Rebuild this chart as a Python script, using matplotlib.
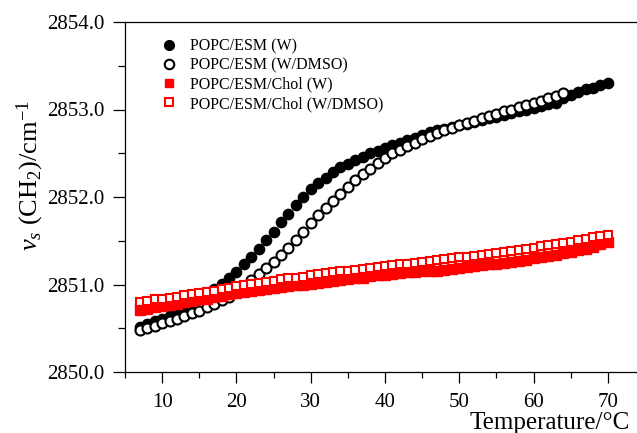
import matplotlib
matplotlib.use("Agg")
import matplotlib.pyplot as plt
from matplotlib.ticker import MultipleLocator, FormatStrFormatter

plt.rcParams["font.family"] = ["Liberation Serif", "DejaVu Serif"]
plt.rcParams["mathtext.fontset"] = "custom"
plt.rcParams["mathtext.rm"] = "Liberation Serif"
plt.rcParams["mathtext.it"] = "Liberation Serif:italic"

# Temperature grids (°C)
temp_full = list(range(7, 71))
temp_dmso = list(range(7, 65))

# POPC/ESM in water
esm_w = [2850.52, 2850.55, 2850.58, 2850.61, 2850.64, 2850.67, 2850.72, 2850.77,
         2850.83, 2850.89, 2850.95, 2851.01, 2851.07, 2851.14, 2851.23, 2851.32,
         2851.41, 2851.51, 2851.60, 2851.71, 2851.81, 2851.91, 2852.00, 2852.09,
         2852.16, 2852.22, 2852.29, 2852.34, 2852.38, 2852.42, 2852.46, 2852.50,
         2852.53, 2852.56, 2852.59, 2852.62, 2852.65, 2852.68, 2852.71, 2852.74,
         2852.76, 2852.78, 2852.80, 2852.82, 2852.84, 2852.86, 2852.88, 2852.90,
         2852.92, 2852.94, 2852.96, 2852.98, 2853.00, 2853.02, 2853.04, 2853.06,
         2853.08, 2853.13, 2853.17, 2853.20, 2853.23, 2853.25, 2853.28, 2853.30]

# POPC/ESM in water/DMSO
esm_dmso = [2850.48, 2850.50, 2850.53, 2850.56, 2850.58, 2850.61, 2850.64, 2850.67,
            2850.70, 2850.74, 2850.78, 2850.82, 2850.86, 2850.92, 2850.98, 2851.05,
            2851.12, 2851.19, 2851.26, 2851.34, 2851.42, 2851.51, 2851.60, 2851.70,
            2851.79, 2851.88, 2851.96, 2852.04, 2852.12, 2852.19, 2852.26, 2852.32,
            2852.39, 2852.45, 2852.50, 2852.54, 2852.58, 2852.62, 2852.66, 2852.70,
            2852.73, 2852.76, 2852.79, 2852.82, 2852.85, 2852.87, 2852.90, 2852.93,
            2852.95, 2852.98, 2853.00, 2853.03, 2853.05, 2853.08, 2853.10, 2853.13,
            2853.16, 2853.19]

# POPC/ESM/Chol in water
chol_w = [2850.71, 2850.72, 2850.74, 2850.75, 2850.77, 2850.78, 2850.80, 2850.81,
          2850.83, 2850.84, 2850.86, 2850.87, 2850.89, 2850.90, 2850.91, 2850.93,
          2850.94, 2850.95, 2850.96, 2850.97, 2850.98, 2850.99, 2851.00, 2851.01,
          2851.02, 2851.03, 2851.04, 2851.05, 2851.06, 2851.07, 2851.08, 2851.10,
          2851.11, 2851.11, 2851.12, 2851.13, 2851.14, 2851.14, 2851.15, 2851.16,
          2851.16, 2851.17, 2851.18, 2851.19, 2851.20, 2851.21, 2851.22, 2851.23,
          2851.24, 2851.25, 2851.26, 2851.27, 2851.28, 2851.30, 2851.31, 2851.33,
          2851.34, 2851.36, 2851.37, 2851.39, 2851.41, 2851.43, 2851.46, 2851.49]

# POPC/ESM/Chol in water/DMSO
chol_dmso = [2850.80, 2850.81, 2850.83, 2850.84, 2850.85, 2850.86, 2850.88, 2850.89,
             2850.90, 2850.92, 2850.93, 2850.95, 2850.96, 2850.98, 2850.99, 2851.01,
             2851.02, 2851.03, 2851.04, 2851.06, 2851.07, 2851.08, 2851.09, 2851.11,
             2851.12, 2851.13, 2851.14, 2851.15, 2851.16, 2851.17, 2851.18, 2851.19,
             2851.20, 2851.21, 2851.22, 2851.23, 2851.24, 2851.25, 2851.26, 2851.27,
             2851.28, 2851.29, 2851.30, 2851.31, 2851.32, 2851.33, 2851.34, 2851.35,
             2851.36, 2851.37, 2851.38, 2851.40, 2851.41, 2851.42, 2851.44, 2851.45,
             2851.46, 2851.48, 2851.49, 2851.51, 2851.52, 2851.54, 2851.55, 2851.57]

labels = ["POPC/ESM (W)", "POPC/ESM (W/DMSO)",
          "POPC/ESM/Chol (W)", "POPC/ESM/Chol (W/DMSO)"]

W, H = 637, 433
fig = plt.figure(figsize=(W / 100, H / 100), dpi=100)
ax = fig.add_axes([125 / W, (H - 372) / H, (638 - 125) / W, (372 - 22) / H])

ax.plot(temp_full, esm_w, "o", ms=7.4, mfc="black", mec="black", mew=1.0, label=labels[0])
ax.plot(temp_dmso, esm_dmso, "o", ms=7.2, mfc="white", mec="black", mew=1.5, label=labels[1])
ax.plot(temp_full, chol_w, "s", ms=6.6, mfc="#ff0000", mec="#ff0000", mew=1.0, label=labels[2])
ax.plot(temp_full, chol_dmso, "s", ms=6.4, mfc="white", mec="#ff0000", mew=1.5, label=labels[3])

ax.set_xlim(5, 74.05)
ax.set_ylim(2850.0, 2854.0)
ax.xaxis.set_major_locator(MultipleLocator(10))
ax.xaxis.set_minor_locator(MultipleLocator(5))
ax.yaxis.set_major_locator(MultipleLocator(1.0))
ax.yaxis.set_minor_locator(MultipleLocator(0.5))
ax.yaxis.set_major_formatter(FormatStrFormatter("%.1f"))

for s in ax.spines.values():
    s.set_linewidth(0.9)
ax.tick_params(axis="y", which="major", direction="out", length=8.6, width=0.9,
               labelsize=15, pad=6.5, right=True)
ax.tick_params(axis="y", which="minor", direction="out", length=5, width=0.9)
ax.tick_params(axis="x", which="major", direction="out", length=8, width=0.9,
               labelsize=15, pad=7)
ax.tick_params(axis="x", which="minor", direction="out", length=4.5, width=0.9)

ax.legend(loc="upper left", bbox_to_anchor=(0.045, 0.985), frameon=False,
          fontsize=11.5, handletextpad=0.75, labelspacing=0.2,
          handlelength=1.2, borderpad=0.2, markerscale=0.95)

fig.text(630 / W, 4 / H, "Temperature/°C", ha="right", va="baseline", fontsize=18)
fig.text(30 / W, 1 - 176 / H, r"$\nu_s$ (CH$_2$)/cm$^{-1}$", rotation=90,
         ha="center", va="center", fontsize=19)

fig.savefig("out.png", dpi=100)
